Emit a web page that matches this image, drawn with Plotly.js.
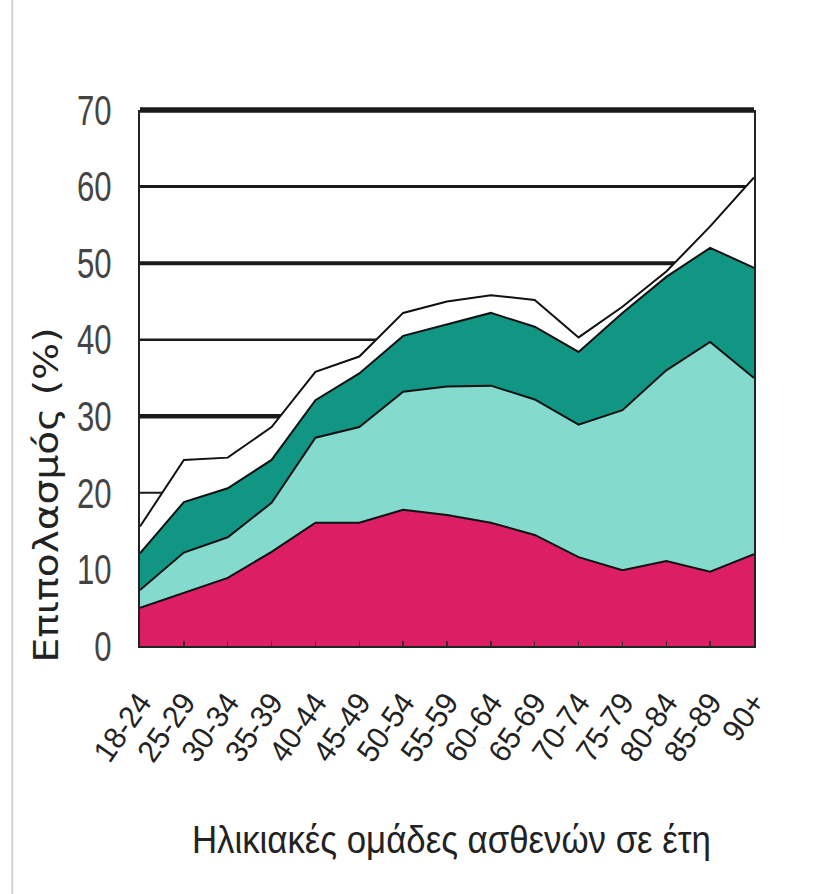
<!DOCTYPE html>
<html>
<head>
<meta charset="utf-8">
<script src="https://cdn.plot.ly/plotly-3.0.1.min.js"></script>
<style>html,body{margin:0;padding:0;background:#fff;}#chart{width:825px;height:894px;}</style>
</head>
<body>
<div id="chart"></div>
<script>
// Age groups (x categories)
const ageGroups = ["18-24","25-29","30-34","35-39","40-44","45-49","50-54","55-59","60-64","65-69","70-74","75-79","80-84","85-89","90+"];
// Stacked layers (prevalence, %), bottom to top
const layerMagenta   = [5.0, 6.9, 8.9, 12.3, 16.1, 16.1, 17.8, 17.1, 16.1, 14.5, 11.6, 9.9, 11.1, 9.7, 12.0];
const layerLightTeal = [2.3, 5.3, 5.3, 6.4, 11.1, 12.5, 15.4, 16.8, 17.9, 17.7, 17.3, 20.9, 24.9, 30.0, 23.0];
const layerDarkTeal  = [4.8, 6.6, 6.4, 5.6, 4.9, 7.0, 7.3, 8.1, 9.5, 9.5, 9.5, 12.7, 12.2, 12.3, 14.4];
const layerWhite     = [3.5, 5.5, 4.0, 4.3, 3.7, 2.2, 3.0, 3.0, 2.3, 3.5, 1.9, 0.8, 0.7, 2.8, 11.8];
// Y ticks
const yTickVals = [0, 10, 20, 30, 40, 50, 60, 70];
const yTickText = ["0", "10", "20", "30", "40", "50", "60", "70"];

const yMax = 70;
const gridWidths = {10: 2, 20: 2, 30: 4.5, 40: 2.5, 50: 4, 60: 3, 70: 5.5};

const sans = '"Liberation Sans", Arial, sans-serif';

function layer(vals, fillcolor) {
  return {
    x: ageGroups, y: vals, type: 'scatter', mode: 'lines',
    stackgroup: 'one', fillcolor: fillcolor,
    line: {color: '#111', width: 2, shape: 'linear'},
    hoverinfo: 'skip'
  };
}

const traces = [
  layer(layerMagenta, '#DC1E64'),
  layer(layerLightTeal, '#84DACC'),
  layer(layerDarkTeal, '#109682'),
  layer(layerWhite, '#FFFFFF')
];

// horizontal rules at each tick value, drawn beneath the areas
const shapes = yTickVals.filter(v => v > 0).map(v => ({
  type: 'line', xref: 'paper', yref: 'y domain', x0: 0, x1: 1, y0: v / yMax, y1: v / yMax,
  line: {color: '#1a1a1a', width: gridWidths[v]}, layer: 'below'
}));
shapes.push({type: 'line', xref: 'paper', yref: 'paper', x0: -0.208, x1: -0.208, y0: -0.47, y1: 1.21,
  line: {color: '#d4d4d4', width: 2}, layer: 'below'});

const layout = {
  width: 825, height: 894,
  margin: {l: 140, r: 71, t: 110, b: 248},
  paper_bgcolor: '#fff', plot_bgcolor: '#fff',
  showlegend: false,
  xaxis: {
    type: 'category', range: [0, ageGroups.length - 1],
    showgrid: false, zeroline: false,
    showline: true, linecolor: '#222', linewidth: 2,
    ticks: 'inside', ticklen: 5, tickcolor: '#333', tickwidth: 1.5,
    tickangle: -55, ticklabelstandoff: 24,
    tickfont: {family: sans, size: 31, color: '#222'}
  },
  yaxis: {
    range: [0, yMax], tickvals: yTickVals, ticktext: yTickText,
    showgrid: false, zeroline: false,
    showline: true, mirror: true, linecolor: '#222', linewidth: 2,
    ticks: '', ticklabelstandoff: 18,
    tickfont: {family: sans, size: 42, color: '#444'}
  },
  shapes: shapes,
  annotations: [
    {text: 'Επιπολασμός (%)', xref: 'paper', yref: 'paper', x: -0.151, y: 0.282,
     textangle: -90, showarrow: false, xanchor: 'center', yanchor: 'middle',
     font: {family: '"DejaVu Sans", sans-serif', size: 33, color: '#222'}},
    {text: 'Ηλικιακές ομάδες ασθενών σε έτη', xref: 'paper', yref: 'paper', x: 0.508, y: -0.362,
     showarrow: false, xanchor: 'center', yanchor: 'middle',
     font: {family: sans, size: 38, color: '#222'}}
  ]
};

Plotly.newPlot('chart', traces, layout, {staticPlot: true, displayModeBar: false}).then(function () {
  // condense text horizontally to mimic the narrow typeface of the original
  function squeeze(sel, factor) {
    document.querySelectorAll(sel).forEach(function (t) {
      const w = t.getComputedTextLength();
      t.setAttribute('textLength', (w * factor).toFixed(1));
      t.setAttribute('lengthAdjust', 'spacingAndGlyphs');
    });
  }
  squeeze('.ytick text', 0.74);
  squeeze('.xtick text', 0.95);
  const ann = document.querySelectorAll('.annotation-text');
  if (ann[0]) { ann[0].setAttribute('textLength', '335'); ann[0].setAttribute('lengthAdjust', 'spacingAndGlyphs'); }
  if (ann[1]) { ann[1].setAttribute('textLength', '519'); ann[1].setAttribute('lengthAdjust', 'spacingAndGlyphs'); }
});
</script>
</body>
</html>
